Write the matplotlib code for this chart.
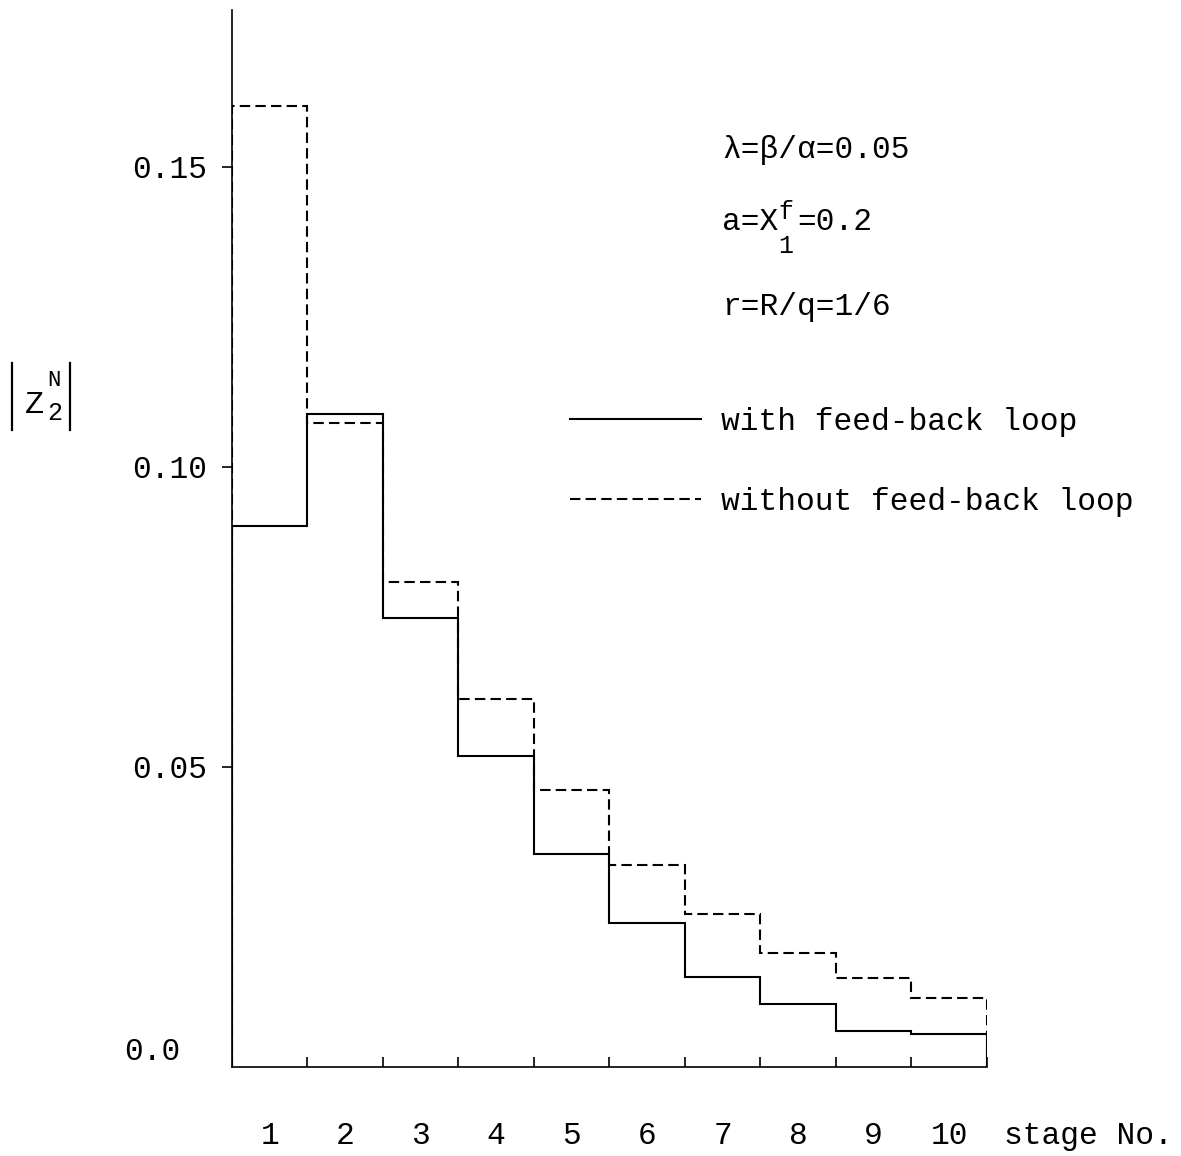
import matplotlib
matplotlib.use("Agg")
import matplotlib.pyplot as plt
from matplotlib.lines import Line2D
import numpy as np

# Stage numbers and |Z2^N| per stage
stages = list(range(1, 11))
with_feedback = [0.0902, 0.1088, 0.0748, 0.0518, 0.0355, 0.0240, 0.0150, 0.0105, 0.0060, 0.0055]
without_feedback = [0.1602, 0.1073, 0.0808, 0.0613, 0.0462, 0.0337, 0.0255, 0.0190, 0.0148, 0.0115]
y_ticks = [0.05, 0.10, 0.15]
y_tick_labels = ["0.05", "0.10", "0.15"]
series_labels = ["with feed-back loop", "without feed-back loop"]

FONT = "Liberation Mono"
FS = 22.5
plt.rcParams["font.family"] = [FONT, "DejaVu Sans"]

W, H = 1181, 1156
fig = plt.figure(figsize=(W / 100, H / 100), dpi=100)
fig.patch.set_facecolor("white")


def fx(px):
    return px / W


def fy(py):
    return 1 - py / H


left, right, bottom, top = 232, 987, 1067, 10
ax = fig.add_axes([fx(left), fy(bottom), (right - left) / W, (bottom - top) / H])
ax.set_xlim(0, len(stages))
ax.set_ylim(0, 0.05 * (bottom - top) / 300)

edges = np.arange(len(stages) + 1)
lw = 1.5
solid = ax.stairs(with_feedback, edges, baseline=0, fill=False,
                  color="black", linewidth=lw, label=series_labels[0])
dashed = ax.stairs(without_feedback, edges, baseline=0, fill=False,
                   color="black", linewidth=lw, linestyle=(0, (5, 2.5)),
                   label=series_labels[1])

for s in ("top", "right"):
    ax.spines[s].set_visible(False)
for s in ("left", "bottom"):
    ax.spines[s].set_linewidth(1.2)

# Stage boundaries as inward ticks, stage numbers centred below each stage
ax.set_xticks(edges[1:])
ax.tick_params(axis="x", which="major", direction="in", length=7, width=1.2,
               labelbottom=False)
ax.set_xticks(edges[:-1] + 0.5, minor=True)
ax.set_xticklabels([str(s) for s in stages], minor=True)
ax.tick_params(axis="x", which="minor", length=0, pad=39, labelsize=FS)

ax.set_yticks(y_ticks)
ax.set_yticklabels(y_tick_labels)
ax.tick_params(axis="y", direction="out", length=7, width=1.2, pad=11,
               labelsize=FS)
ax.annotate("0.0", xy=(0, 0), xytext=(-37, 11), textcoords="offset points",
            ha="right", va="center", fontsize=FS, annotation_clip=False)

fig.text(fx(1004), fy(1136), "stage No.", ha="left", va="center", fontsize=FS)

# Axis quantity |Z_2^N|
for bx in (12, 70):
    fig.add_artist(Line2D([fx(bx), fx(bx)], [fy(363), fy(430)],
                          transform=fig.transFigure, color="black", lw=1.6))
fig.text(fx(25), fy(405), "Z", ha="left", va="center", fontsize=23)
fig.text(fx(47), fy(381), "N", ha="left", va="center", fontsize=16)
fig.text(fx(47), fy(413), "2", ha="left", va="center", fontsize=18)

# Parameter annotations
px = 722
adv = 0.6 * FS * 100 / 72  # monospace character advance in pixels
fig.text(fx(px), fy(150), "λ=β/α=0.05", ha="left", va="center", fontsize=FS)
fig.text(fx(px), fy(222), "a=X", ha="left", va="center", fontsize=FS)
fig.text(fx(px + 3 * adv), fy(212), "f", ha="left", va="center", fontsize=FS * 0.8)
fig.text(fx(px + 3 * adv), fy(246), "1", ha="left", va="center", fontsize=FS * 0.8)
fig.text(fx(px + 4 * adv), fy(222), "=0.2", ha="left", va="center", fontsize=FS)
fig.text(fx(px), fy(307), "r=R/q=1/6", ha="left", va="center", fontsize=FS)

leg = ax.legend(handles=[solid, dashed], loc="upper left",
                bbox_to_anchor=(fx(570), fy(407)),
                bbox_transform=fig.transFigure, frameon=False, fontsize=FS,
                handlelength=4.2, handletextpad=0.62, labelspacing=1.6,
                borderpad=0, borderaxespad=0)

fig.savefig("out.png", dpi=100, facecolor="white")
